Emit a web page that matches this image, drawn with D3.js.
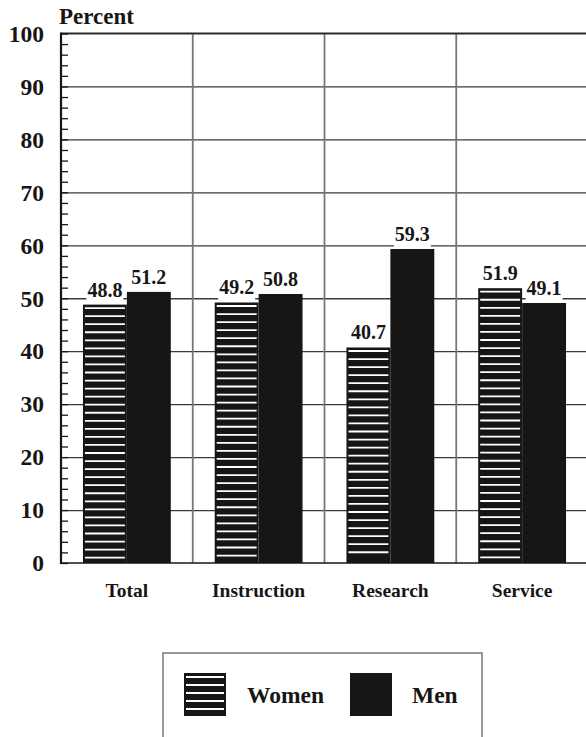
<!DOCTYPE html>
<html>
<head>
<meta charset="utf-8">
<script src="https://cdn.jsdelivr.net/npm/d3@7"></script>
</head>
<body style="margin:0;background:#fff">
<svg id="chart" width="586" height="737" style="display:block"></svg>
<script>
const categories = ["Total", "Instruction", "Research", "Service"];
const seriesNames = ["Women", "Men"];
const women = [48.8, 49.2, 40.7, 51.9];
const men = [51.2, 50.8, 59.3, 49.1];
const majorTicks = [0, 10, 20, 30, 40, 50, 60, 70, 80, 90, 100];
const minorTicks = d3.range(0, 101, 2);

const FONT = "Liberation Serif";
const svg = d3.select("#chart");
const ink = "#161616";
const plotLeft = 61, plotRight = 588, plotTop = 33.5, plotBottom = 563;

function serif(sel, size) {
    return sel.style("font-family", FONT).style("font-weight", "bold")
        .style("font-size", size + "px").attr("fill", ink);
}

const y = d3.scaleLinear().domain([0, 100]).range([plotBottom, plotTop]);
const x = d3.scaleBand().domain(categories).range([plotLeft, plotRight]);
const xs = d3.scaleBand().domain(seriesNames).range([0, x.bandwidth()]).paddingOuter(0.5);

// horizontal grid
svg.append("g")
    .attr("transform", `translate(${plotLeft},0)`)
    .call(d3.axisRight(y).tickValues(majorTicks.filter(d => d > 0 && d < 100)).tickSize(plotRight - plotLeft).tickFormat(""))
    .call(g => g.select(".domain").remove())
    .call(g => g.selectAll("line").attr("stroke", "#3a3a3a").attr("stroke-width", 1.3));

// vertical grid between categories
svg.append("g").selectAll("line")
    .data(categories.slice(1))
    .join("line")
    .attr("x1", d => x(d)).attr("x2", d => x(d))
    .attr("y1", plotTop).attr("y2", plotBottom)
    .attr("stroke", "#777").attr("stroke-width", 1.8);

// bars
const groups = svg.append("g").selectAll("g")
    .data(categories.map((c, i) => ({ cat: c, vals: [women[i], men[i]] })))
    .join("g")
    .attr("transform", d => `translate(${x(d.cat)},0)`);

groups.selectAll("rect")
    .data(d => d.vals.map((v, j) => ({ name: seriesNames[j], value: v })))
    .join("rect")
    .attr("x", d => xs(d.name))
    .attr("width", xs.bandwidth())
    .attr("y", d => y(d.value))
    .attr("height", d => y(0) - y(d.value))
    .attr("fill", ink);

// stripes on women bars
function stripes(sel, x0, w, y0, y1) {
    const ys = [];
    for (let yy = y0 + 3.5; yy < y1 - 4; yy += 8.05) ys.push(yy);
    sel.selectAll("line.stripe")
        .data(ys)
        .join("line")
        .attr("class", "stripe")
        .attr("x1", x0 + 2).attr("x2", x0 + w - 2)
        .attr("y1", d => d).attr("y2", d => d)
        .attr("stroke", "#fff").attr("stroke-width", 1.8);
}
groups.each(function(d) {
    const g = d3.select(this).append("g");
    stripes(g, xs("Women"), xs.bandwidth(), y(d.vals[0]), y(0));
});

// value labels with white backing
groups.each(function(d) {
    d.vals.forEach((v, j) => {
        const cx = xs(seriesNames[j]) + xs.bandwidth() / 2;
        const lg = d3.select(this).append("g");
        const bg = lg.append("rect").attr("fill", "#fff");
        const t = lg.append("text")
            .attr("x", cx)
            .attr("y", y(v) - 8)
            .attr("text-anchor", "middle")
            .text(v.toFixed(1));
        serif(t, 20);
        const b = t.node().getBBox();
        bg.attr("x", b.x - 1).attr("width", b.width + 2)
            .attr("y", b.y + 3).attr("height", b.height - 1);
    });
});

// top border and bottom line
svg.append("line").attr("x1", plotLeft).attr("x2", plotRight).attr("y1", plotTop).attr("y2", plotTop)
    .attr("stroke", "#2a2a2a").attr("stroke-width", 2);
svg.append("line").attr("x1", plotLeft).attr("x2", plotRight).attr("y1", plotBottom).attr("y2", plotBottom)
    .attr("stroke", ink).attr("stroke-width", 1.5);

svg.append("g")
    .attr("transform", `translate(${plotLeft},0)`)
    .call(d3.axisRight(y).tickValues(minorTicks).tickSize(7).tickFormat(""))
    .call(g => g.select(".domain").remove())
    .call(g => g.selectAll("line").attr("stroke", ink).attr("stroke-width", 1.3));

svg.append("line").attr("x1", plotLeft).attr("x2", plotLeft).attr("y1", plotTop - 1).attr("y2", plotBottom + 1)
    .attr("stroke", ink).attr("stroke-width", 2.2);

svg.append("g")
    .attr("transform", `translate(${plotLeft},0)`)
    .call(d3.axisLeft(y).tickValues(majorTicks).tickSize(0).tickPadding(17))
    .call(g => g.select(".domain").remove())
    .call(g => serif(g.selectAll("text"), 23.5).attr("dy", "0.33em"));

serif(svg.append("text").attr("x", 59).attr("y", 24).text("Percent"), 23);

// category labels
serif(svg.append("g").selectAll("text")
    .data(categories)
    .join("text")
    .attr("x", d => x(d) + x.bandwidth() / 2)
    .attr("y", 597)
    .attr("text-anchor", "middle")
    .text(d => d), 19.5);

// legend
const legend = svg.append("g");
legend.append("rect")
    .attr("x", 163).attr("y", 653).attr("width", 319).attr("height", 120)
    .attr("fill", "none").attr("stroke", "#777").attr("stroke-width", 1.5);

const legendItems = [
    { name: "Women", sx: 184, tx: 247 },
    { name: "Men", sx: 350, tx: 412 }
];
legendItems.forEach(it => {
    legend.append("rect")
        .attr("x", it.sx).attr("y", 673).attr("width", 42).attr("height", 43)
        .attr("fill", ink);
    if (it.name === "Women") {
        const g = legend.append("g");
        const ys = [677, 685, 693, 701, 709];
        g.selectAll("line").data(ys).join("line")
            .attr("x1", it.sx + 2).attr("x2", it.sx + 40)
            .attr("y1", d => d).attr("y2", d => d)
            .attr("stroke", "#fff").attr("stroke-width", 1.8);
    }
    serif(legend.append("text").attr("x", it.tx).attr("y", 703).text(it.name), 23.5);
});
</script>
</body>
</html>
